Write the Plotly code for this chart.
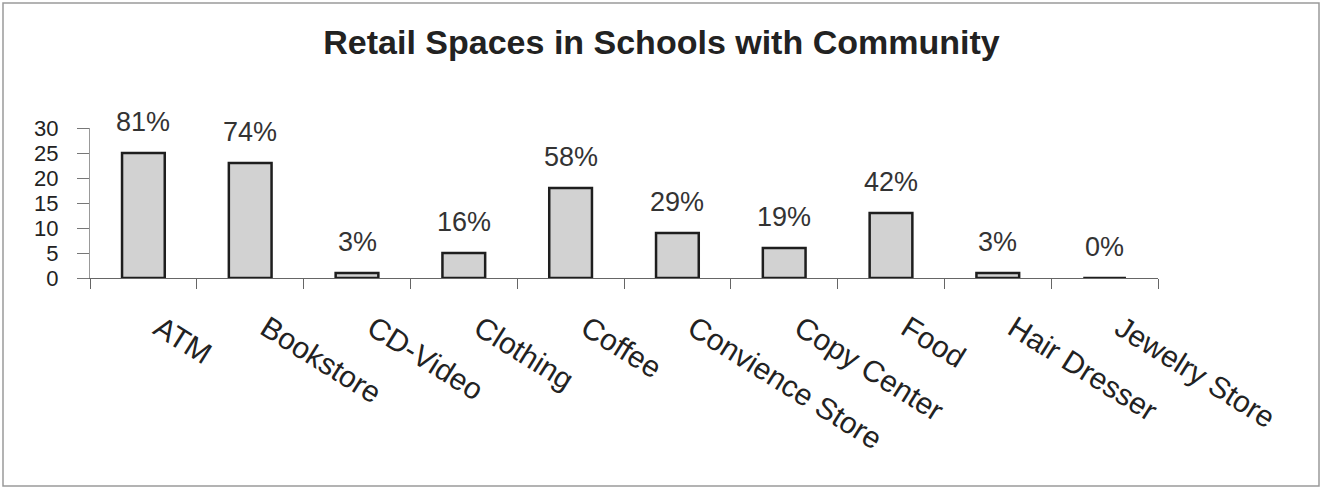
import plotly.graph_objects as go

# Retail spaces found in schools with community facilities
categories = ["ATM", "Bookstore", "CD-Video", "Clothing", "Coffee",
              "Convience Store", "Copy Center", "Food", "Hair Dresser", "Jewelry Store"]
school_counts = [25, 23, 1, 5, 18, 9, 6, 13, 1, 0]
schools_surveyed = 31
y_ticks = [0, 5, 10, 15, 20, 25, 30]

pct_labels = [f"{round(c / schools_surveyed * 100)}%" for c in school_counts]

W, H = 1323, 491
ml, mr, mt, mb = 90, 165, 128, 213
FONT = "Liberation Sans, Arial, sans-serif"

fig = go.Figure(
    go.Bar(
        x=categories,
        y=school_counts,
        width=0.4,
        marker=dict(color="#d2d2d2", line=dict(color="#1e1e1e", width=2.5)),
        hoverinfo="x+y",
    )
)

for cat, val, lab in zip(categories, school_counts, pct_labels):
    fig.add_annotation(
        x=cat, y=val, text=lab, showarrow=False, yanchor="bottom", yshift=14,
        font=dict(family=FONT, size=27, color="#333333"),
    )

# thin frame around the whole figure
pw, ph = W - ml - mr, H - mt - mb
fig.add_shape(
    type="rect", xref="paper", yref="paper",
    x0=(3 - ml) / pw, x1=(W - 4 - ml) / pw,
    y0=-(H - 5 - mt - ph) / ph, y1=(mt - 3) / ph + 1,
    line=dict(color="#9a9a9a", width=1.5), fillcolor="rgba(0,0,0,0)",
)

fig.update_layout(
    width=W, height=H,
    margin=dict(l=ml, r=mr, t=mt, b=mb),
    paper_bgcolor="white", plot_bgcolor="white",
    showlegend=False,
    title=dict(
        text="<b>Retail Spaces in Schools with Community</b>",
        x=0.5, xref="container", xanchor="center",
        y=1 - 42 / H, yref="container", yanchor="middle",
        font=dict(family=FONT, size=34, color="#222222"),
    ),
    font=dict(family=FONT, color="#222222"),
)

fig.update_xaxes(
    type="category",
    tickson="boundaries", ticks="outside", ticklen=10, tickwidth=1, tickcolor="#666666",
    showline=True, linecolor="#666666", linewidth=1,
    showgrid=False, tickangle=32,
    tickfont=dict(size=30, color="#222222"),
    ticklabelstandoff=20,
    ticklabelshift=16,
)
fig.update_yaxes(
    range=[0, 30], tickvals=y_ticks, ticktext=[str(v) for v in y_ticks],
    ticks="outside", ticklen=12, tickwidth=1, tickcolor="#777777",
    showline=True, linecolor="#999999", linewidth=1,
    showgrid=False, zeroline=False,
    tickfont=dict(size=22, color="#222222"),
    ticklabelstandoff=14,
)

fig.write_html("out.html")
